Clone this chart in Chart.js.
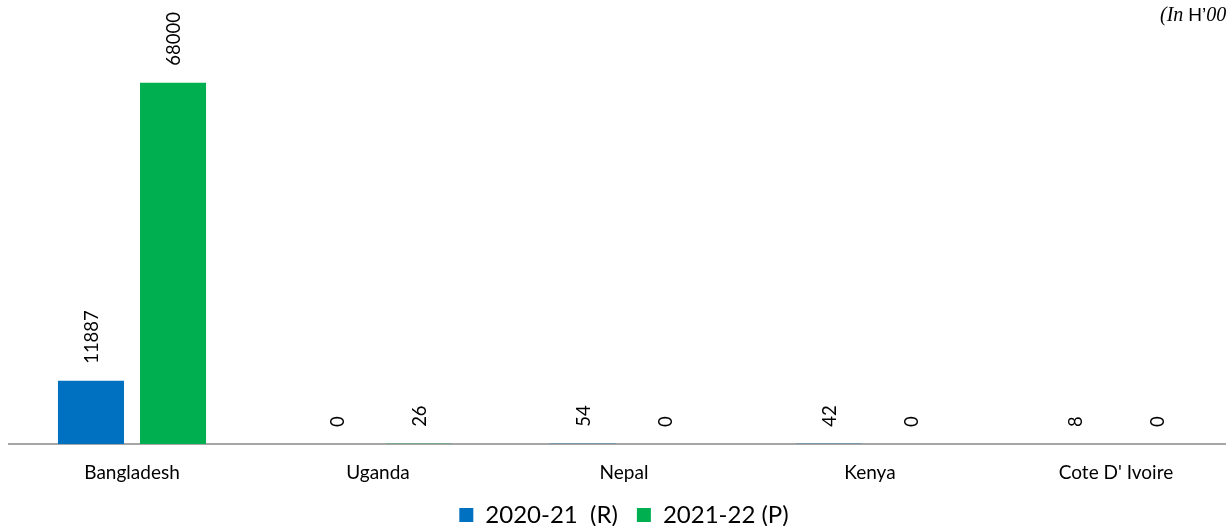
<!DOCTYPE html>
<html>
<head>
<meta charset="utf-8">
<script src="https://cdn.jsdelivr.net/npm/chart.js@4.4.1/dist/chart.umd.min.js"></script>
<style>
  html, body { margin: 0; padding: 0; background: #fff; overflow: hidden; }
  #wrap { width: 1241px; height: 526px; }
</style>
</head>
<body>
<div id="wrap"><canvas id="c" width="1241" height="526"></canvas></div>
<script>
// Country categories and the two financial-year series
const countries = ['Bangladesh', 'Uganda', 'Nepal', 'Kenya', "Cote D' Ivoire"];
const fy2021 = [11887, 0, 54, 42, 8];
const fy2122 = [68000, 26, 0, 0, 0];
const seriesNames = ['2020-21  (R)', '2021-22 (P)'];
const seriesColors = ['#0070C0', '#00B050'];

const FONT = 'Lato, "Noto Sans", sans-serif';

// Rotated value labels above each bar
const valueLabels = {
  id: 'valueLabels',
  afterDatasetsDraw(chart) {
    const ctx = chart.ctx;
    ctx.save();
    ctx.font = '18.5px ' + FONT;
    ctx.fillStyle = '#000';
    ctx.textAlign = 'left';
    ctx.textBaseline = 'middle';
    chart.data.datasets.forEach((ds, i) => {
      const meta = chart.getDatasetMeta(i);
      meta.data.forEach((bar, j) => {
        ctx.save();
        ctx.translate(bar.x, bar.y - 17);
        ctx.rotate(-Math.PI / 2);
        ctx.fillText(String(ds.data[j]), 0, 1);
        ctx.restore();
      });
    });
    ctx.restore();
  }
};

// Unit note in the top-right corner
const unitNote = {
  id: 'unitNote',
  afterDraw(chart) {
    const ctx = chart.ctx;
    ctx.save();
    ctx.fillStyle = '#000';
    ctx.textBaseline = 'alphabetic';
    let x = 1160;
    const y = 21;
    const parts = [
      ['italic 20px "Liberation Serif", serif', '(In '],
      ['19px "Liberation Sans", sans-serif', 'H’'],
      ['italic 20px "Liberation Serif", serif', '000)']
    ];
    parts.forEach(([f, t]) => {
      ctx.font = f;
      ctx.fillText(t, x, y);
      x += ctx.measureText(t).width;
    });
    ctx.restore();
  }
};

new Chart(document.getElementById('c'), {
  type: 'bar',
  data: {
    labels: countries,
    datasets: [
      { label: seriesNames[0], data: fy2021, backgroundColor: seriesColors[0] },
      { label: seriesNames[1], data: fy2122, backgroundColor: seriesColors[1] }
    ]
  },
  options: {
    responsive: false,
    animation: false,
    events: [],
    categoryPercentage: 0.667,
    barPercentage: 0.805,
    layout: { padding: { top: 19, left: 9, right: 2, bottom: -11 } },
    scales: {
      x: {
        grid: { display: false, drawTicks: false },
        border: { display: true, color: '#a6a6a6', width: 2 },
        ticks: { color: '#000', font: { family: FONT, size: 19 }, padding: 17 },
        afterFit(s) { s.height = 40; }
      },
      y: {
        display: false,
        min: 0,
        max: 80000
      }
    },
    plugins: {
      legend: {
        position: 'bottom',
        labels: {
          color: '#000',
          font: { family: FONT, size: 24 },
          boxWidth: 14,
          boxHeight: 14,
          padding: 19
        }
      },
      tooltip: { enabled: false }
    }
  },
  plugins: [valueLabels, unitNote]
});
</script>
</body>
</html>
